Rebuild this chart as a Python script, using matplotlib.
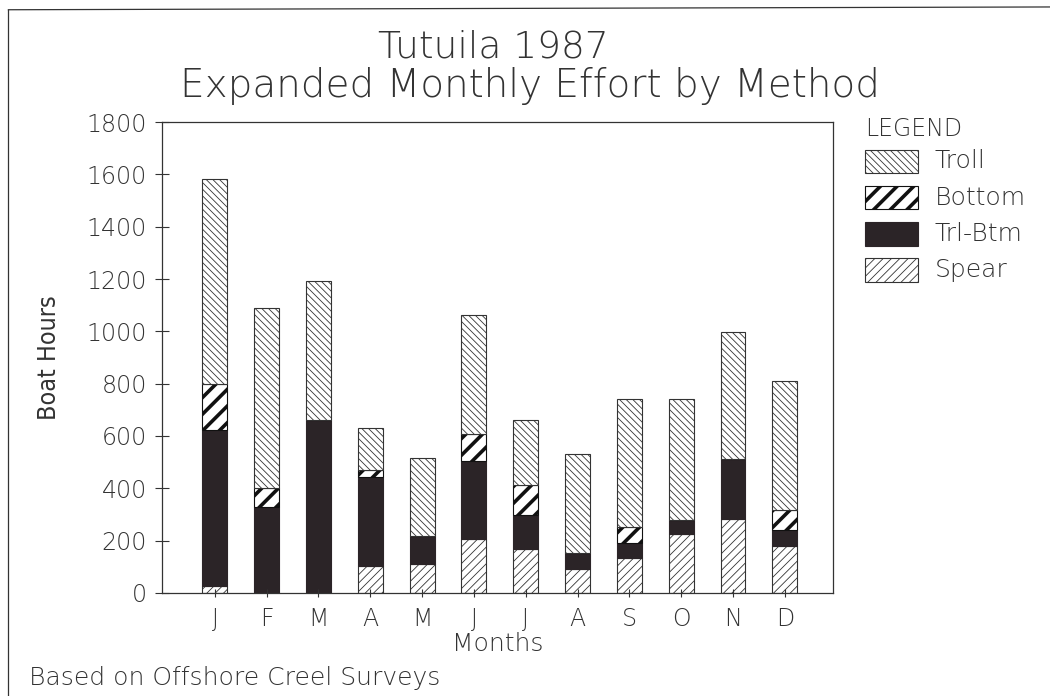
import matplotlib
matplotlib.use("Agg")
import matplotlib.pyplot as plt
from matplotlib.lines import Line2D
import numpy as np

months = ["J", "F", "M", "A", "M", "J", "J", "A", "S", "O", "N", "D"]
spear = [25, 0, 0, 105, 110, 206, 170, 90, 132, 224, 282, 180]
trl_btm = [597, 330, 662, 340, 107, 297, 127, 61, 60, 54, 229, 60]
bottom = [175, 73, 0, 25, 0, 106, 117, 0, 61, 0, 0, 79]
troll = [785, 687, 532, 160, 300, 454, 246, 382, 490, 465, 486, 493]

plt.rcParams['font.family'] = ['DejaVu Sans']
plt.rcParams['font.weight'] = 200
plt.rcParams['axes.labelweight'] = 200
plt.rcParams['hatch.color'] = '#333333'
txt = '#333333'

fig = plt.figure(figsize=(10.5, 6.96), dpi=100)
ax = fig.add_axes([0.1543, 0.148, 0.639, 0.6767])

x = np.arange(len(months))
w = 0.48
edge = '#333333'

with plt.rc_context({'hatch.linewidth': 0.6}):
    ax.bar(x, spear, w, color='white', edgecolor=edge, hatch='////', linewidth=0.8)
ax.bar(x, trl_btm, w, bottom=spear, color='#2b2427', edgecolor='#2b2427', linewidth=0.8)
base2 = np.array(spear) + np.array(trl_btm)
with plt.rc_context({'hatch.linewidth': 2.6}):
    ax.bar(x, bottom, w, bottom=base2, color='white', edgecolor='#111111', hatch='//', linewidth=0.8)
base3 = base2 + np.array(bottom)
with plt.rc_context({'hatch.linewidth': 0.6}):
    ax.bar(x, troll, w, bottom=base3, color='white', edgecolor=edge, hatch='\\\\\\\\\\', linewidth=0.8)

ax.set_xlim(-1.02, 11.93)
ax.set_ylim(0, 1800)
ax.set_yticks(range(0, 1801, 200))
ax.set_xticks(x)
ax.set_xticklabels(months)
ax.tick_params(axis='y', direction='inout', length=10, width=0.8, labelsize=17, pad=6, colors=txt)
ax.tick_params(axis='x', direction='inout', length=6, width=0.8, labelsize=17, pad=7, colors=txt)
for s in ax.spines.values():
    s.set_linewidth(0.9)
    s.set_color(txt)

ax.set_xlabel("Months", fontsize=18, color=txt, labelpad=1)
ax.set_ylabel("Boat Hours", fontsize=18, color=txt, fontstretch='condensed', labelpad=18)

fig.text(0.470, 0.932, "Tutuila 1987", ha='center', va='center', fontsize=27, color=txt)
fig.text(0.505, 0.877, "Expanded Monthly Effort by Method", ha='center', va='center', fontsize=28, color=txt)
fig.text(0.028, 0.026, "Based on Offshore Creel Surveys", ha='left', va='center', fontsize=18, color=txt)

# legend drawn by hand
fig.text(0.824, 0.815, "LEGEND", ha='left', va='center', fontsize=17, color=txt)
leg_items = [("Troll", 'white', '\\\\\\\\\\', 0.6, edge),
             ("Bottom", 'white', '//', 2.6, '#111111'),
             ("Trl-Btm", '#2b2427', None, 0.6, '#2b2427'),
             ("Spear", 'white', '////', 0.6, edge)]
for i, (lab, fc, h, lw, ec) in enumerate(leg_items):
    yc = 0.768 - i * 0.052
    with plt.rc_context({'hatch.linewidth': lw}):
        p = plt.Rectangle((0.824, yc - 0.017), 0.050, 0.034, transform=fig.transFigure,
                          facecolor=fc, edgecolor=ec, hatch=h, linewidth=0.8)
    fig.patches.append(p)
    fig.text(0.890, yc, lab, ha='left', va='center', fontsize=18, color=txt)

# outer frame lines
fig.add_artist(Line2D([0.008, 0.008], [0.0, 0.986], color=txt, linewidth=0.9))
fig.add_artist(Line2D([0.008, 1.0], [0.986, 0.99], color=txt, linewidth=0.9))

fig.savefig("out.png", dpi=100)
